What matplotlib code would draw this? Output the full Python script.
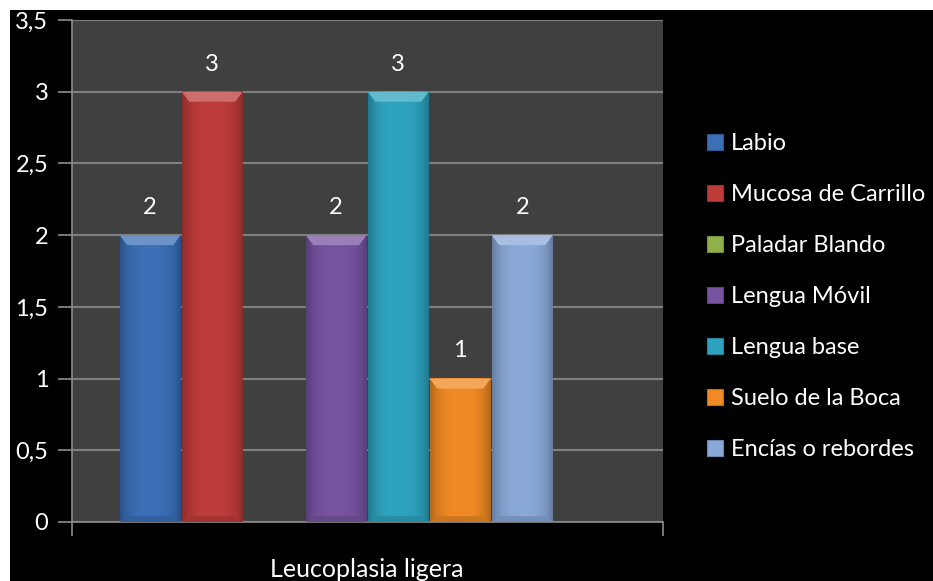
import matplotlib.pyplot as plt
import numpy as np
from matplotlib.patches import Patch, Rectangle, Polygon
from matplotlib.colors import to_rgb

categoria = "Leucoplasia ligera"
zonas = ["Labio", "Mucosa de Carrillo", "Paladar Blando", "Lengua Móvil",
         "Lengua base", "Suelo de la Boca", "Encías o rebordes"]
casos = [2, 3, 0, 2, 3, 1, 2]
colores = ["#3b6fb6", "#be3c3a", "#8fb04a", "#7853a0", "#2ea3bf", "#f08a24", "#8aa8d8"]
yticks = [0, 0.5, 1, 1.5, 2, 2.5, 3, 3.5]

plt.rcParams['font.family'] = ['Lato', 'DejaVu Sans']

fig = plt.figure(figsize=(9.33, 5.81), dpi=100, facecolor="white")
# fondo negro con un pequeño margen blanco arriba e izquierda
fig.add_artist(Rectangle((10 / 933, 0), 1, 1 - 10 / 581, transform=fig.transFigure,
                         facecolor="black", edgecolor="none", zorder=-5))

ax = fig.add_axes([72 / 933, 1 - 522 / 581, (663 - 72) / 933, (522 - 20) / 581])
ax.set_facecolor("#404040")

def aclarar(c, f):
    c = np.array(to_rgb(c))
    return tuple(c + (1 - c) * f)

def oscurecer(c, f):
    return tuple(np.array(to_rgb(c)) * (1 - f))

n_slots = 8
ancho = 0.98
for i, (v, c) in enumerate(zip(casos, colores)):
    if v <= 0:
        continue
    x0, x1 = i - ancho / 2, i + ancho / 2
    # degradado horizontal: bordes algo más oscuros
    t = np.linspace(0, 1, 60)
    sombra = 1 - 0.25 * (np.abs(t - 0.5) * 2) ** 3
    base = np.array(to_rgb(c))
    img = np.clip(base[None, None, :] * sombra[None, :, None], 0, 1)
    ax.imshow(img, extent=(x0, x1, 0, v), aspect="auto", zorder=3, interpolation="bilinear")
    # bisel superior más claro
    b = 0.07
    bx = 0.12
    ax.add_patch(Polygon([(x0, v), (x1, v), (x1 - bx, v - b), (x0 + bx, v - b)],
                         closed=True, facecolor=aclarar(c, 0.25), edgecolor="none", zorder=4))
    ax.add_patch(Polygon([(x0, 0), (x1, 0), (x1 - bx, 0.04), (x0 + bx, 0.04)],
                         closed=True, facecolor=oscurecer(c, 0.15), edgecolor="none", zorder=4))
    ax.text(i, v + 0.12, str(v), ha="center", va="bottom", color="white", fontsize=17, zorder=5)

ax.set_xlim(-1.26, n_slots - 0.5 + 0.77)
ax.set_ylim(0, 3.5)
ax.set_yticks(yticks)
ax.set_yticklabels([("%g" % t).replace(".", ",") for t in yticks], color="white", fontsize=17)
ax.yaxis.grid(True, color="#7f7f7f", linewidth=1.5, zorder=1)
ax.set_axisbelow(True)

ax.set_xticks([(n_slots - 1) / 2])
ax.set_xticklabels([categoria], color="white", fontsize=18)
ax.tick_params(axis="x", length=0, pad=26)
ax.set_xticks([-1.26, n_slots - 0.5 + 0.77], minor=True)
ax.tick_params(axis="x", which="minor", length=10, color="#8c8c8c", width=1.2)
ax.tick_params(axis="y", length=10, color="#8c8c8c", width=1.2, pad=7)

for s in ["top", "right"]:
    ax.spines[s].set_visible(False)
for s in ["left", "bottom"]:
    ax.spines[s].set_color("#8c8c8c")
    ax.spines[s].set_linewidth(1.2)

handles = [Patch(facecolor=c, edgecolor=oscurecer(c, 0.2), linewidth=0.8) for c in colores]
fig.legend(handles, zonas, loc="upper left", bbox_to_anchor=(698 / 933, 1 - 124 / 581),
           frameon=False, fontsize=17, labelcolor="white", handlelength=0.65,
           handleheight=0.65, handletextpad=0.35, labelspacing=1.27, borderaxespad=0)

fig.savefig("out.png", dpi=100, facecolor=fig.get_facecolor())
